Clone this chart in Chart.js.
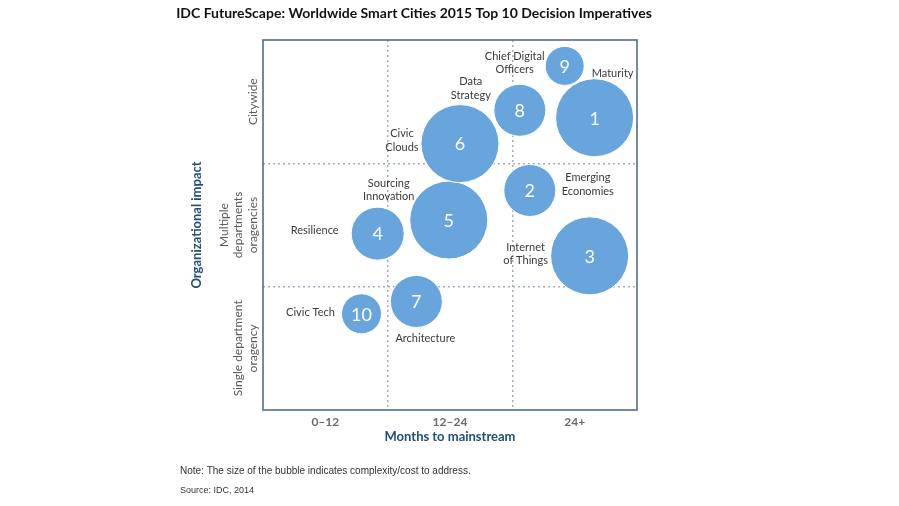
<!DOCTYPE html>
<html>
<head>
<meta charset="utf-8">
<script src="https://cdn.jsdelivr.net/npm/chart.js@4"></script>
<style>
  html, body { margin: 0; padding: 0; background: #fff; }
  #wrap { width: 899px; height: 506px; position: relative; }
</style>
</head>
<body>
<div id="wrap"><canvas id="bubbleChart"></canvas></div>
<script>
        // imperatives, 1..10
        const ids = ['1', '2', '3', '4', '5', '6', '7', '8', '9', '10'];
        const names = [
            ['Maturity'],
            ['Emerging', 'Economies'],
            ['Internet', 'of Things'],
            ['Resilience'],
            ['Sourcing', 'Innovation'],
            ['Civic', 'Clouds'],
            ['Architecture'],
            ['Data', 'Strategy'],
            ['Chief Digital', 'Officers'],
            ['Civic Tech']
        ];
        // months to mainstream (0..3 = 0-12 | 12-24 | 24+)
        const monthsPos = [2.66, 2.14, 2.62, 0.92, 1.49, 1.58, 1.23, 2.06, 2.42, 0.79];
        // organizational impact (0..3 = single | multiple | citywide)
        const impactPos = [2.37, 1.78, 1.25, 1.43, 1.54, 2.16, 0.88, 2.43, 2.79, 0.78];
        // complexity / cost (bubble radius)
        const complexity = [39, 26, 39, 26.5, 39, 39, 26, 26, 19.5, 20];

        const xLabels = ['0\u201312', '12\u201324', '24+'];
        const yLabels = [['Single department', 'oragency'], ['Multiple', 'departments', 'oragencies'], ['Citywide']];

        // label offset from bubble centre, px
        const labelOffsets = [
            [18, -44], [58, -6], [-64, -2], [-63, -3], [-60, -30],
            [-58, -3], [9, 37], [-49, -22], [-50, -3], [-51, -1]
        ];

        const frameColor = '#4f6e8c';
        const bubbleColor = '#68a5dc';

        const extras = {
            id: 'extras',
            beforeDatasetsDraw(chart) {
                const ctx = chart.ctx;
                const a = chart.chartArea;
                ctx.save();
                ctx.strokeStyle = frameColor;
                ctx.lineWidth = 1.6;
                ctx.strokeRect(a.left, a.top, a.right - a.left, a.bottom - a.top);
                ctx.restore();
            },
            afterDatasetsDraw(chart) {
                const ctx = chart.ctx;
                const meta = chart.getDatasetMeta(0);
                const ys = chart.scales.y;
                ctx.save();
                ctx.textAlign = 'center';
                ctx.textBaseline = 'middle';

                meta.data.forEach((pt, i) => {
                    ctx.fillStyle = '#ffffff';
                    ctx.font = '18px Lato';
                    ctx.fillText(ids[i], pt.x, pt.y + 1);

                    ctx.fillStyle = '#3a3a3a';
                    ctx.font = '11px Lato';
                    const lines = names[i];
                    const lh = 13.5;
                    const cx = pt.x + labelOffsets[i][0];
                    const cy = pt.y + labelOffsets[i][1] - (lines.length - 1) * lh / 2;
                    lines.forEach((t, k) => ctx.fillText(t, cx, cy + k * lh));
                });

                // row labels on the impact axis, last line next to the frame
                ctx.fillStyle = '#5a5a5a';
                ctx.font = '12px Lato';
                yLabels.forEach((lines, i) => {
                    const py = ys.getPixelForValue(i + 0.5);
                    const lh = 14.5;
                    const x0 = 253 - (lines.length - 1) * lh;
                    lines.forEach((t, k) => {
                        ctx.save();
                        ctx.translate(x0 + k * lh, py);
                        ctx.rotate(-Math.PI / 2);
                        ctx.fillText(t, 0, 0);
                        ctx.restore();
                    });
                });

                // heading and footnotes
                ctx.fillStyle = '#111';
                ctx.font = 'bold 14px Lato';
                ctx.fillText('IDC FutureScape: Worldwide Smart Cities 2015 Top 10 Decision Imperatives', 414, 13);

                ctx.textAlign = 'left';
                ctx.fillStyle = '#333';
                ctx.font = '10px "Liberation Sans"';
                ctx.fillText('Note: The size of the bubble indicates complexity/cost to address.', 180, 471);
                ctx.font = '9px "Liberation Sans"';
                ctx.fillText('Source: IDC, 2014', 180, 491);
                ctx.restore();
            }
        };

        const gridOpts = {
            color: (c) => (c.tick && (c.tick.value === 1 || c.tick.value === 2)) ? '#9fb0c2' : 'rgba(0,0,0,0)',
            lineWidth: 1.5,
            drawTicks: false
        };

        new Chart(document.getElementById('bubbleChart'), {
            type: 'bubble',
            data: {
                datasets: [{
                    data: ids.map((_, i) => ({ x: monthsPos[i], y: impactPos[i], r: complexity[i] })),
                    backgroundColor: bubbleColor,
                    borderColor: '#ffffff',
                    borderWidth: 1,
                    hoverRadius: 0
                }]
            },
            plugins: [extras],
            options: {
                responsive: true,
                maintainAspectRatio: false,
                animation: false,
                layout: { padding: { left: 189, right: 262, top: 37, bottom: 61 } },
                plugins: {
                    legend: { display: false },
                    tooltip: { enabled: false }
                },
                scales: {
                    x: {
                        type: 'linear',
                        min: 0,
                        max: 3,
                        grid: gridOpts,
                        border: { display: false, dash: [2, 3] },
                        ticks: {
                            stepSize: 0.5,
                            padding: 5,
                            color: '#6b6b6b',
                            font: { family: 'Lato', size: 12, weight: 'bold' },
                            callback: (v) => (v % 1 === 0.5) ? xLabels[Math.floor(v)] : ''
                        },
                        title: {
                            display: true,
                            text: 'Months to mainstream',
                            color: '#1f4e79',
                            padding: 0,
                            font: { family: 'Lato', size: 13, weight: 'bold' }
                        },
                        afterFit: (s) => { s.height = 35; }
                    },
                    y: {
                        type: 'linear',
                        min: 0,
                        max: 3,
                        grid: gridOpts,
                        border: { display: false, dash: [2, 3] },
                        ticks: { display: false, stepSize: 0.5 },
                        title: {
                            display: true,
                            text: 'Organizational impact',
                            color: '#1f4e79',
                            padding: 0,
                            font: { family: 'Lato', size: 13, weight: 'bold' }
                        },
                        afterFit: (s) => { s.width = 74; }
                    }
                }
            }
        });
</script>
</body>
</html>
